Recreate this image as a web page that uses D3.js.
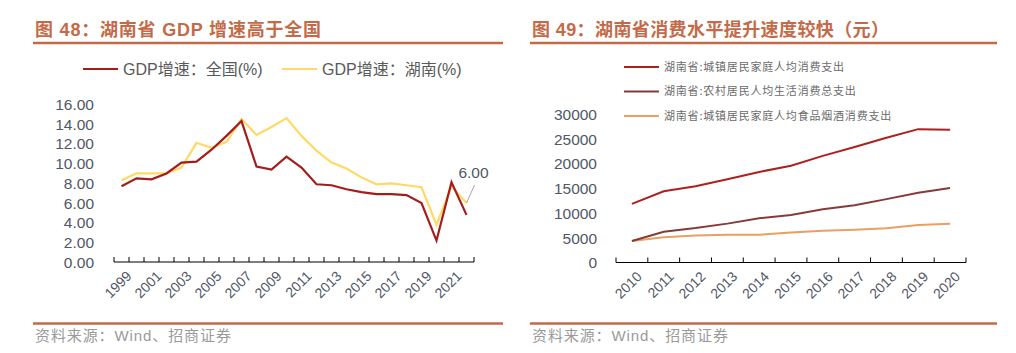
<!DOCTYPE html>
<html>
<head>
<meta charset="utf-8">
<script src="https://cdn.jsdelivr.net/npm/d3@7"></script>
<style>
  body { margin: 0; background: #fff; }
  svg { display: block; font-family: "Liberation Sans", Arial, "Noto Sans CJK SC", sans-serif; }
</style>
</head>
<body>
<svg id="chart" width="1016" height="353"></svg>
<script>
// left chart: GDP growth
const gdpYears = d3.range(1999, 2023);
const gdpNational = [7.7, 8.5, 8.4, 9.0, 10.1, 10.2, 11.4, 12.8, 14.3, 9.7, 9.4, 10.7, 9.6, 7.9, 7.8, 7.4, 7.1, 6.9, 6.9, 6.8, 6.0, 2.2, 8.1, 4.8];
const gdpHunan = [8.3, 9.0, 9.0, 9.0, 9.6, 12.1, 11.6, 12.2, 14.5, 12.9, 13.7, 14.6, 12.8, 11.3, 10.1, 9.5, 8.6, 7.9, 8.0, 7.8, 7.6, 3.8, 7.7, 6.0];
const gdpTicks = [0, 2, 4, 6, 8, 10, 12, 14, 16];

// right chart: consumption (yuan)
const consYears = d3.range(2010, 2021);
const urbanSpend = [11900, 14450, 15450, 16850, 18350, 19600, 21600, 23400, 25250, 27000, 26900];
const ruralSpend = [4380, 6270, 7000, 7900, 9000, 9650, 10800, 11600, 12850, 14150, 15100];
const foodSpend = [4380, 5130, 5500, 5650, 5650, 6100, 6450, 6670, 6950, 7600, 7880];
const consTicks = [0, 5000, 10000, 15000, 20000, 25000, 30000];

const titleColor = "#C46A48";
const labelColor = "#505766";
const svg = d3.select("#chart");

// header / footer for each panel
function frame(x0, x1, title, spacing) {
  svg.append("text").attr("x", x0 + 2).attr("y", 36)
    .attr("fill", titleColor).attr("font-size", 18).attr("font-weight", "bold")
    .attr("letter-spacing", spacing)
    .text(title);
  svg.append("line").attr("x1", x0).attr("x2", x1).attr("y1", 43).attr("y2", 43)
    .attr("stroke", titleColor).attr("stroke-width", 2.5);
  svg.append("line").attr("x1", x0).attr("x2", x1).attr("y1", 323.5).attr("y2", 323.5)
    .attr("stroke", titleColor).attr("stroke-width", 2.5);
  svg.append("text").attr("x", x0 + 2).attr("y", 341)
    .attr("fill", "#9a9a9a").attr("font-size", 15).attr("letter-spacing", 0.9)
    .text("资料来源：Wind、招商证券");
}
frame(33, 503, "图 48：湖南省 GDP 增速高于全国", 0.8);
frame(530, 997, "图 49：湖南省消费水平提升速度较快（元）", 0.4);

// category axis with ticks at band edges, pointing up
function catAxis(x, cats, labelFilter) {
  const y0 = x.y0;
  const g = svg.append("g");
  const [a, b] = x.range();
  g.append("line").attr("x1", a).attr("x2", b).attr("y1", y0).attr("y2", y0)
    .attr("stroke", "#000").attr("stroke-width", 1.2);
  const edges = cats.map(c => x(c)).concat([b]);
  g.selectAll("line.tk").data(edges).join("line").attr("class", "tk")
    .attr("x1", d => d).attr("x2", d => d).attr("y1", y0 - 5).attr("y2", y0)
    .attr("stroke", "#000").attr("stroke-width", 1);
  g.selectAll("text").data(cats.filter(labelFilter)).join("text")
    .attr("transform", d => `translate(${x(d) + x.bandwidth() / 2 + 4},${y0 + 8}) rotate(-45)`)
    .attr("text-anchor", "end").attr("dy", "0.7em")
    .attr("font-size", 14).attr("fill", labelColor)
    .text(d => d);
}

// ---------- left chart ----------
const xL = d3.scaleBand().domain(gdpYears).range([114, 474]);
xL.y0 = 262;
const yL = d3.scaleLinear().domain([0, 16]).range([262.3, 104.3]);

svg.append("g").selectAll("text").data(gdpTicks).join("text")
  .attr("x", 94).attr("y", d => yL(d)).attr("dy", "0.36em")
  .attr("text-anchor", "end").attr("font-size", 15.5).attr("fill", labelColor)
  .text(d => d3.format(".2f")(d));

catAxis(xL, gdpYears, (d, i) => i % 2 === 0);

const lineL = vals => d3.line()
  .x((d, i) => xL(gdpYears[i]) + xL.bandwidth() / 2)
  .y(d => yL(d))(vals);

svg.append("path").attr("d", lineL(gdpHunan)).attr("fill", "none")
  .attr("stroke", "#FFD966").attr("stroke-width", 2.2);
svg.append("path").attr("d", lineL(gdpNational)).attr("fill", "none")
  .attr("stroke", "#A51C1C").attr("stroke-width", 2.2);

// annotation for last Hunan value
const lastX = xL(gdpYears[gdpYears.length - 1]) + xL.bandwidth() / 2;
const lastY = yL(gdpHunan[gdpHunan.length - 1]);
svg.append("line").attr("x1", lastX).attr("y1", lastY).attr("x2", lastX + 8).attr("y2", lastY - 18)
  .attr("stroke", "#a6a6a6").attr("stroke-width", 1);
svg.append("text").attr("x", lastX + 7).attr("y", lastY - 25)
  .attr("text-anchor", "middle").attr("font-size", 15.5).attr("fill", labelColor)
  .text(d3.format(".2f")(gdpHunan[gdpHunan.length - 1]));

// left legend
const legL = [
  { name: "GDP增速：全国(%)", color: "#A51C1C", x: 83 },
  { name: "GDP增速：湖南(%)", color: "#FFD966", x: 282 }
];
legL.forEach(d => {
  svg.append("line").attr("x1", d.x).attr("x2", d.x + 35).attr("y1", 69).attr("y2", 69)
    .attr("stroke", d.color).attr("stroke-width", 2.2);
  svg.append("text").attr("x", d.x + 40).attr("y", 69).attr("dy", "0.36em")
    .attr("font-size", 16).attr("fill", "#595959").text(d.name);
});

// ---------- right chart ----------
const xR = d3.scaleBand().domain(consYears).range([616, 966]);
xR.y0 = 262.5;
const yR = d3.scaleLinear().domain([0, 30000]).range([262.7, 114.3]);

svg.append("g").selectAll("text").data(consTicks).join("text")
  .attr("x", 597).attr("y", d => yR(d)).attr("dy", "0.36em")
  .attr("text-anchor", "end").attr("font-size", 15.5).attr("fill", labelColor)
  .text(d => d);

catAxis(xR, consYears, () => true);

const lineR = vals => d3.line()
  .x((d, i) => xR(consYears[i]) + xR.bandwidth() / 2)
  .y(d => yR(d))(vals);

const seriesR = [
  { name: "湖南省:城镇居民家庭人均消费支出", vals: urbanSpend, color: "#AE1F1F" },
  { name: "湖南省:农村居民人均生活消费总支出", vals: ruralSpend, color: "#863A3A" },
  { name: "湖南省:城镇居民家庭人均食品烟酒消费支出", vals: foodSpend, color: "#E9A060" }
];
seriesR.slice().reverse().forEach(s => {
  svg.append("path").attr("d", lineR(s.vals)).attr("fill", "none")
    .attr("stroke", s.color).attr("stroke-width", 2);
});
seriesR.forEach((s, i) => {
  const y = 67 + i * 24.5;
  svg.append("line").attr("x1", 624).attr("x2", 659).attr("y1", y).attr("y2", y)
    .attr("stroke", s.color).attr("stroke-width", 2);
  svg.append("text").attr("x", 664).attr("y", y).attr("dy", "0.36em")
    .attr("font-family", "'Noto Sans CJK SC', sans-serif")
    .attr("font-size", 11).attr("letter-spacing", 0.8).attr("fill", "#6b6b6b")
    .text(s.name);
});
</script>
</body>
</html>
